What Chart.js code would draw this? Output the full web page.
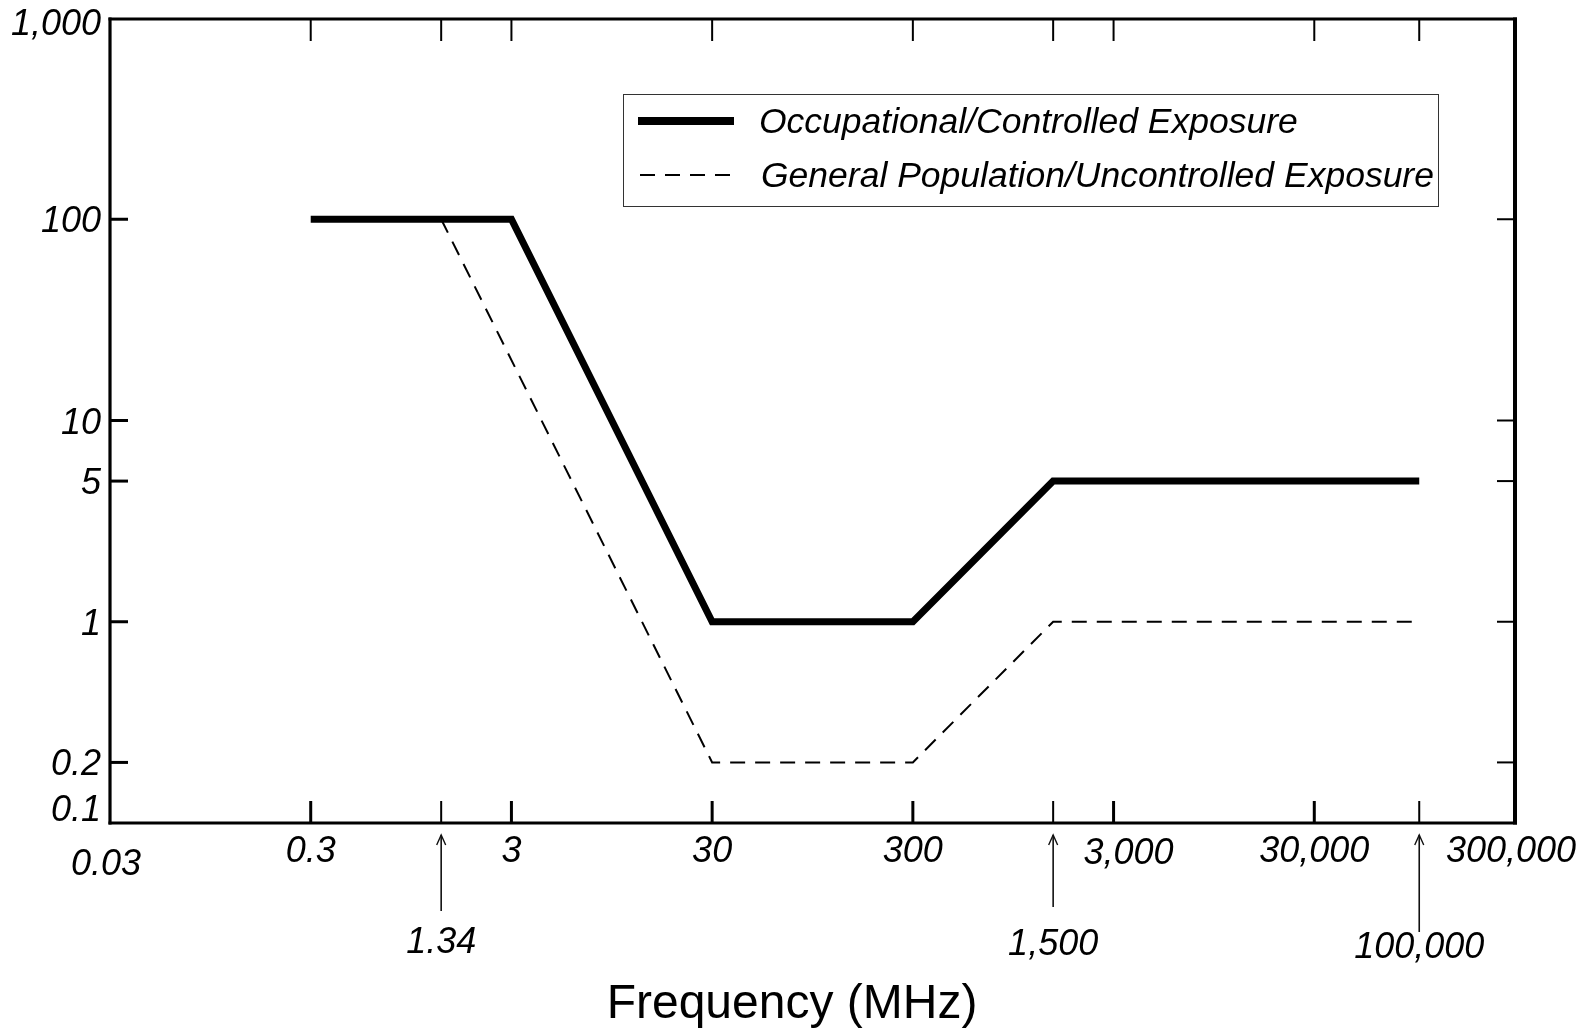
<!DOCTYPE html>
<html>
<head>
<meta charset="utf-8">
<script src="https://cdn.jsdelivr.net/npm/chart.js@4"></script>
<style>
html,body{margin:0;padding:0;background:#fff;}
canvas{display:block;}
</style>
</head>
<body>
<canvas id="c" width="1593" height="1030"></canvas>
<script>
// ---- data ----
const occFreq = [0.3, 3, 30, 300, 1500, 100000];
const occValues = [100, 100, 1, 1, 5, 5];
const genFreq = [1.34, 30, 300, 1500, 100000];
const genValues = [100, 0.2, 0.2, 1, 1];
const xTickValues = [0.03, 0.3, 3, 30, 300, 3000, 30000, 300000];
const xTickLabels = ['0.03', '0.3', '3', '30', '300', '3,000', '30,000', '300,000'];
const xMarkValues = [1.34, 1500, 100000];
const xMarkLabels = ['1.34', '1,500', '100,000'];
const yTickValues = [0.1, 0.2, 1, 5, 10, 100, 1000];
const yTickLabels = ['0.1', '0.2', '1', '5', '10', '100', '1,000'];
const seriesNames = ['Occupational/Controlled Exposure', 'General Population/Uncontrolled Exposure'];
const xTitle = 'Frequency (MHz)';

const FONT = '"Liberation Sans", Arial, sans-serif';

function seg(ctx, x1, y1, x2, y2, w) {
  ctx.lineWidth = w;
  ctx.beginPath();
  ctx.moveTo(x1, y1);
  ctx.lineTo(x2, y2);
  ctx.stroke();
}

const framePlugin = {
  id: 'frame',
  afterDraw(chart) {
    const ctx = chart.ctx;
    const a = chart.chartArea;
    const xs = chart.scales.x, ys = chart.scales.y;
    ctx.save();
    ctx.strokeStyle = '#000';
    ctx.fillStyle = '#000';
    ctx.lineCap = 'butt';

    const L = a.left, R = a.right, T = a.top + 1, B = a.bottom;
    // frame
    seg(ctx, L - 1.5, T, R + 2, T, 3);
    seg(ctx, L, T - 1.5, L, B + 1.5, 3.2);
    seg(ctx, L - 1.5, B, R + 2, B, 3);
    seg(ctx, R, T - 1.5, R, B + 1.5, 4);

    // y ticks (left and right, pointing inward)
    yTickValues.forEach(v => {
      if (v <= ys.min || v >= ys.max) return;
      const py = ys.getPixelForValue(v);
      seg(ctx, L, py, L + 18, py, 3);
      seg(ctx, R - 18, py, R, py, 2);
    });
    // x ticks (bottom and top, pointing inward)
    xTickValues.forEach(v => {
      if (v <= xs.min || v >= xs.max) return;
      const px = xs.getPixelForValue(v);
      seg(ctx, px, B, px, B - 22, 3);
      seg(ctx, px, T, px, T + 22, 2);
    });
    xMarkValues.forEach(v => {
      const px = xs.getPixelForValue(v);
      seg(ctx, px, B, px, B - 22, 2);
      seg(ctx, px, T, px, T + 22, 2);
    });

    // y tick labels
    ctx.font = 'italic 36px ' + FONT;
    ctx.textAlign = 'right';
    ctx.textBaseline = 'alphabetic';
    yTickValues.forEach((v, i) => {
      let py = ys.getPixelForValue(v);
      if (v === ys.max) py += 4;
      if (v === ys.min) py -= 15;
      ctx.fillText(yTickLabels[i], L - 9, py + 13);
    });

    // x tick labels
    ctx.textAlign = 'center';
    xTickValues.forEach((v, i) => {
      let px = xs.getPixelForValue(v);
      let py = B + 39;
      if (v === xs.min) { px -= 4; py += 13; }
      if (xTickLabels[i] === '3,000') { px += 15; py += 2; }
      if (v === xs.max) { px -= 4; }
      ctx.fillText(xTickLabels[i], px, py);
    });

    // marked frequencies with arrows
    const arrowEnds = [911, 907, 932];
    const labelYs = [953, 955, 958];
    xMarkValues.forEach((v, i) => {
      const px = xs.getPixelForValue(v);
      const top = B + 12;
      ctx.strokeStyle = '#111';
      seg(ctx, px, top, px, arrowEnds[i], 1.6);
      ctx.lineWidth = 1.4;
      ctx.beginPath();
      ctx.moveTo(px - 4.5, top + 10);
      ctx.lineTo(px, top);
      ctx.lineTo(px + 4.5, top + 10);
      ctx.stroke();
      ctx.fillText(xMarkLabels[i], px, labelYs[i]);
    });
    ctx.strokeStyle = '#000';

    // axis title
    ctx.font = '48px ' + FONT;
    ctx.textAlign = 'center';
    ctx.fillText(xTitle, 792, 1018);

    // legend
    ctx.lineWidth = 1;
    ctx.strokeStyle = '#333';
    ctx.strokeRect(623.5, 94.5, 815, 112);
    ctx.strokeStyle = '#000';
    const ds = chart.data.datasets;
    seg(ctx, 638, 121, 734, 121, ds[0].borderWidth + 1);
    ctx.setLineDash(ds[1].borderDash);
    seg(ctx, 640, 175, 734, 175, ds[1].borderWidth);
    ctx.setLineDash([]);
    ctx.font = 'italic 35.5px ' + FONT;
    ctx.textAlign = 'left';
    ctx.fillText(ds[0].label, 759, 133);
    ctx.fillText(ds[1].label, 761, 187);

    ctx.restore();
  }
};

new Chart(document.getElementById('c'), {
  type: 'line',
  data: {
    datasets: [
      {
        label: seriesNames[0],
        data: occFreq.map((f, i) => ({x: f, y: occValues[i]})),
        borderColor: '#000',
        borderWidth: 7,
        borderCapStyle: 'butt',
        borderJoinStyle: 'miter',
        pointRadius: 0,
        tension: 0,
        fill: false
      },
      {
        label: seriesNames[1],
        data: genFreq.map((f, i) => ({x: f, y: genValues[i]})),
        borderColor: '#000',
        borderWidth: 2,
        borderDash: [15, 10],
        borderCapStyle: 'butt',
        borderJoinStyle: 'miter',
        pointRadius: 0,
        tension: 0,
        fill: false
      }
    ]
  },
  options: {
    responsive: false,
    animation: false,
    events: [],
    devicePixelRatio: 1,
    layout: { padding: { left: 110, top: 18, right: 78, bottom: 207 } },
    scales: {
      x: { type: 'logarithmic', min: xTickValues[0], max: xTickValues[xTickValues.length - 1], display: false },
      y: { type: 'logarithmic', min: yTickValues[0], max: yTickValues[yTickValues.length - 1], display: false }
    },
    plugins: {
      legend: { display: false },
      tooltip: { enabled: false },
      title: { display: false }
    }
  },
  plugins: [framePlugin]
});
</script>
</body>
</html>
